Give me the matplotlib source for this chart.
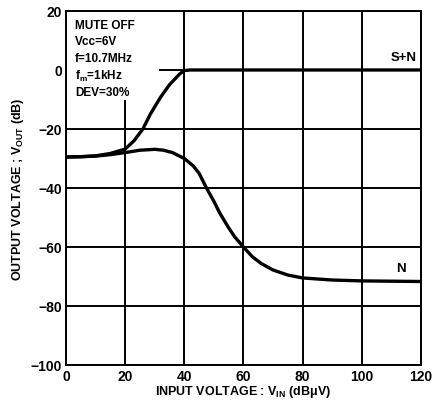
import matplotlib
matplotlib.use("Agg")
import matplotlib.pyplot as plt
from matplotlib import font_manager
from matplotlib.patches import Rectangle

names = {f.name for f in font_manager.fontManager.ttflist}
fam = "Liberation Sans Narrow" if "Liberation Sans Narrow" in names else "Liberation Sans"
plt.rcParams['font.family'] = [fam, 'DejaVu Sans']
plt.rcParams['font.weight'] = 'bold'
plt.rcParams['mathtext.fontset'] = 'custom'
plt.rcParams['mathtext.rm'] = fam + ':bold'
plt.rcParams['mathtext.it'] = fam + ':bold'

# S+N curve
sn_x = [0, 5, 10, 15, 20, 23, 26, 28.5, 30, 32, 35, 38.5, 40, 42, 50, 60, 80, 100, 120]
sn_y = [-29.5, -29.4, -29.1, -28.3, -26.8, -24, -20, -15, -12.5, -9.2, -5, -1.3, -0.2, 0, 0, 0, 0, 0, 0]
# N curve
n_x = [0, 5, 10, 15, 20, 25, 30, 33, 36, 40, 43, 45, 47.5, 50, 52, 55, 57, 60, 63, 66, 70, 75, 80, 90, 100, 110, 120]
n_y = [-29.5, -29.4, -29.2, -28.7, -28, -27.2, -26.9, -27.2, -28, -30, -32.5, -35, -40, -44.5, -48.5, -53.5, -56.5,
       -60, -63.3, -65.6, -67.8, -69.5, -70.5, -71.2, -71.5, -71.6, -71.7]

x_ticks = [0, 20, 40, 60, 80, 100, 120]
y_ticks = [-100, -80, -60, -40, -20, 0, 20]
y_tick_labels = ["\u2212100", "\u221280", "\u221260", "\u221240", "\u221220", "0", "20"]
conditions = ["MUTE OFF", "Vcc=6V", "f=10.7MHz", "f$_{m}$=1kHz", "DEV=30%"]

fig = plt.figure(figsize=(4.33, 4.02), dpi=100)
ax = fig.add_axes([0.1524, 0.0896, 0.8196, 0.8806])
ax.set_xlim(0, 120)
ax.set_ylim(-100, 20)
ax.set_xticks(x_ticks)
ax.set_yticks(y_ticks)
ax.set_yticklabels(y_tick_labels)
ax.set_axisbelow(True)
ax.grid(True, color='black', linewidth=1.4, zorder=0)
ax.tick_params(length=0, labelsize=10, pad=3)
for s in ax.spines.values():
    s.set_linewidth(1.4)
    s.set_zorder(5)

# white background behind the condition block (hides gridlines)
ax.add_patch(Rectangle((0, -10.2), 31.5, 30.2, facecolor='white', edgecolor='none', zorder=1))

ax.plot(sn_x, sn_y, color='black', linewidth=2.4, solid_capstyle='round', zorder=3)
ax.plot(n_x, n_y, color='black', linewidth=2.4, solid_capstyle='round', zorder=3)

ax.text(118.5, 2.5, "S+N", ha='right', va='bottom', fontsize=9.5, fontweight='bold')
ax.text(115, -69, "N", ha='right', va='bottom', fontsize=9.5, fontweight='bold')

for i, t in enumerate(conditions):
    ax.text(3.0, 15.4 - i * 5.7, t, ha='left', va='center', fontsize=8.5, fontweight='bold', zorder=4)

ax.set_xlabel("INPUT VOLTAGE : V$_{\\mathrm{IN}}$ (dB\u03bcV)", fontsize=9, fontweight='bold', labelpad=0)
ax.set_ylabel("OUTPUT VOLTAGE ; V$_{\\mathrm{OUT}}$ (dB)", fontsize=9, fontweight='bold', labelpad=3)

fig.savefig("out.png", dpi=100)
